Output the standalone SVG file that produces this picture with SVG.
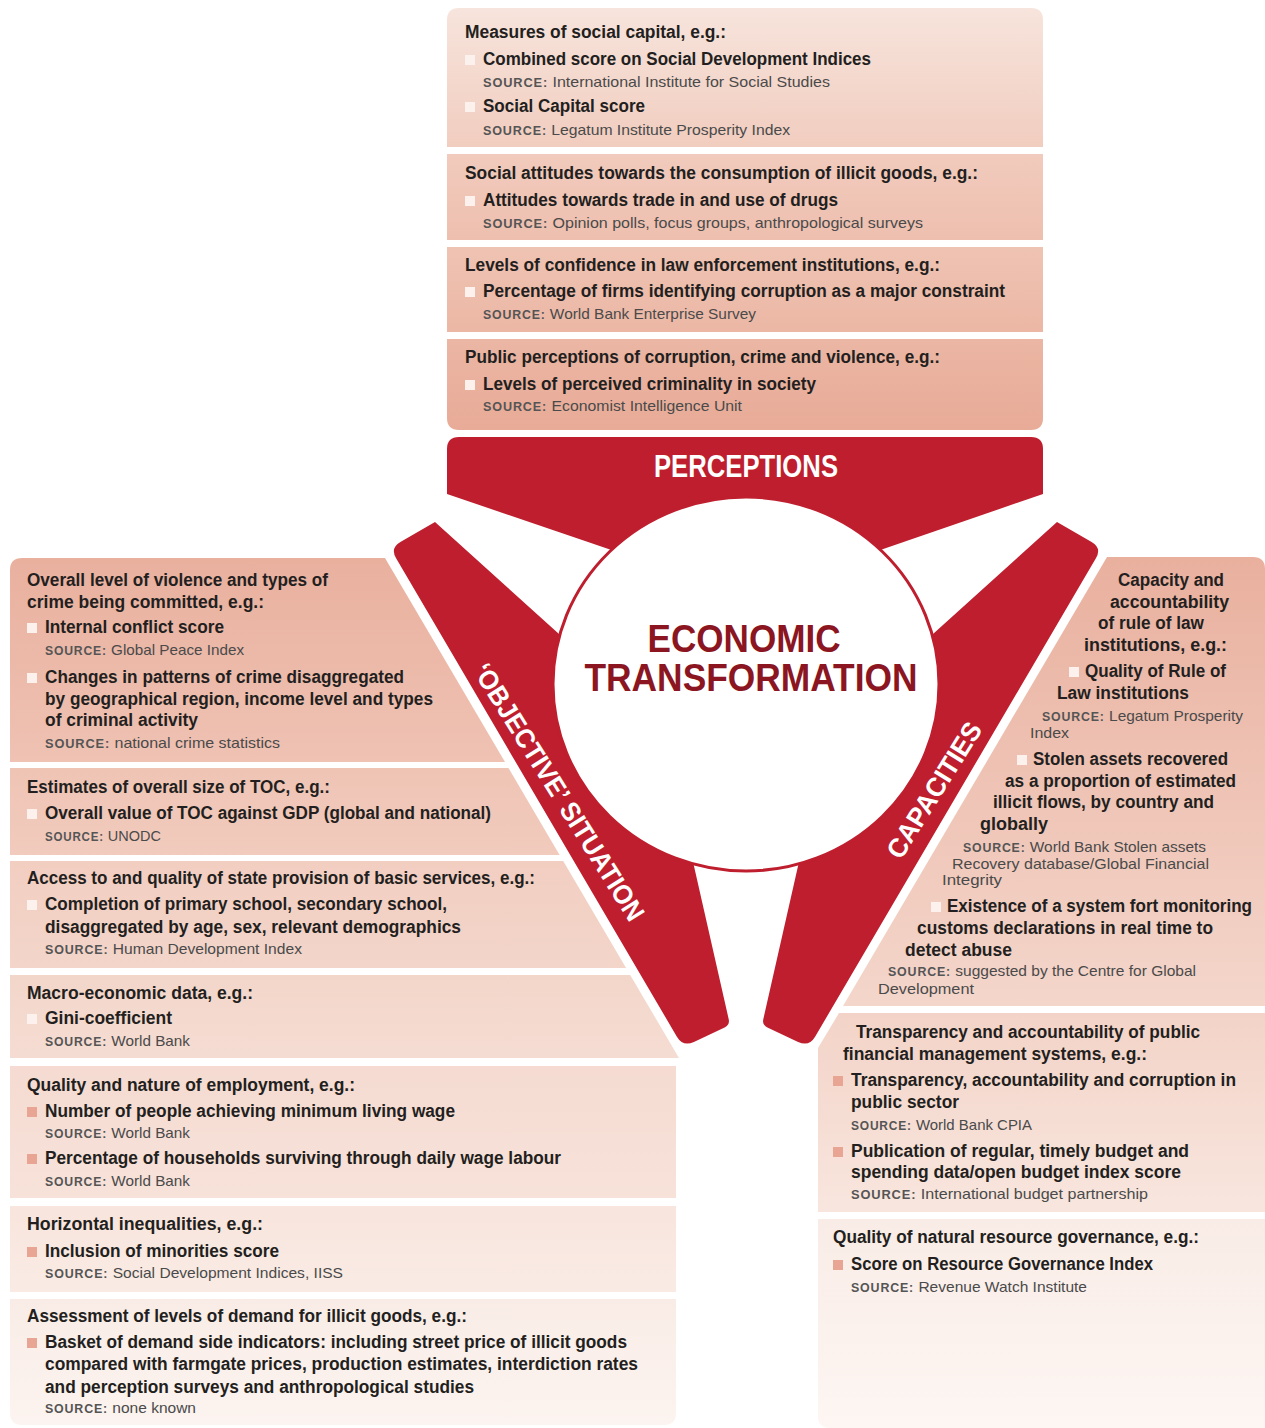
<svg xmlns="http://www.w3.org/2000/svg" xmlns:xlink="http://www.w3.org/1999/xlink" width="1265" height="1428" viewBox="0 0 1265 1428">
<defs>
<linearGradient id="gB1" x1="0" y1="0" x2="0" y2="1"><stop offset="0" stop-color="#f7e4dc"/><stop offset="1" stop-color="#f1cdbf"/></linearGradient>
<linearGradient id="gB2" x1="0" y1="0" x2="0" y2="1"><stop offset="0" stop-color="#f1cbbd"/><stop offset="1" stop-color="#eebfaf"/></linearGradient>
<linearGradient id="gB3" x1="0" y1="0" x2="0" y2="1"><stop offset="0" stop-color="#efc3b3"/><stop offset="1" stop-color="#ecb7a5"/></linearGradient>
<linearGradient id="gB4" x1="0" y1="0" x2="0" y2="1"><stop offset="0" stop-color="#ebb6a4"/><stop offset="1" stop-color="#e8ab97"/></linearGradient>
<linearGradient id="gL1" x1="0" y1="0" x2="0" y2="1"><stop offset="0" stop-color="#e9b09e"/><stop offset="1" stop-color="#efc2b3"/></linearGradient>
<linearGradient id="gL2" x1="0" y1="0" x2="0" y2="1"><stop offset="0" stop-color="#efc4b5"/><stop offset="1" stop-color="#f1cbbd"/></linearGradient>
<linearGradient id="gL3" x1="0" y1="0" x2="0" y2="1"><stop offset="0" stop-color="#f2cec1"/><stop offset="1" stop-color="#f3d5ca"/></linearGradient>
<linearGradient id="gL4" x1="0" y1="0" x2="0" y2="1"><stop offset="0" stop-color="#f3d6ca"/><stop offset="1" stop-color="#f5dcd2"/></linearGradient>
<linearGradient id="gL5" x1="0" y1="0" x2="0" y2="1"><stop offset="0" stop-color="#f5dbd1"/><stop offset="1" stop-color="#f7e2da"/></linearGradient>
<linearGradient id="gL6" x1="0" y1="0" x2="0" y2="1"><stop offset="0" stop-color="#f8e5dd"/><stop offset="1" stop-color="#f9ebe4"/></linearGradient>
<linearGradient id="gL7" x1="0" y1="0" x2="0" y2="1"><stop offset="0" stop-color="#f9ece6"/><stop offset="1" stop-color="#fcf4f0"/></linearGradient>
<linearGradient id="gR1" x1="0" y1="0" x2="0" y2="1"><stop offset="0" stop-color="#e9b09e"/><stop offset="1" stop-color="#f4d6cb"/></linearGradient>
<linearGradient id="gR2" x1="0" y1="0" x2="0" y2="1"><stop offset="0" stop-color="#f3d3c7"/><stop offset="1" stop-color="#f8e6de"/></linearGradient>
<linearGradient id="gR3" x1="0" y1="0" x2="0" y2="1"><stop offset="0" stop-color="#f9ece6"/><stop offset="1" stop-color="#fdf6f3"/></linearGradient>
<path id="arm" d="M435,522 L600,671 L679,800 L728.7,1019.2 Q730,1025 724.6,1027.5 L693.9,1041.9 Q683,1047 676.9,1036.7 L396.1,558.3 Q390,548 400.4,542 Z"/>
</defs>
<style>
text{font-family:"Liberation Sans",Arial,sans-serif}
.h{font-weight:700;font-size:17.5px;fill:#231f20}
.b{font-weight:700;font-size:17.5px;fill:#231f20}
.s{font-size:15px;fill:#4a4a4a}
.sc{font-size:12px;font-weight:700;letter-spacing:0.8px;fill:#555}
.wb{fill:#fcf1ec}
.pb{fill:#e8a594}
.red{fill:#be1e2d}
.lbl{font-weight:700;fill:#ffffff}
.core{font-weight:700;fill:#8b1622;font-size:38px}
</style>
<rect x="0" y="0" width="1265" height="1428" fill="#ffffff"/>

<g id="perceptions-social-capital">
<path d="M459,8 H1031 Q1043,8 1043,20 V147 H447 V20 Q447,8 459,8 Z" fill="url(#gB1)"/>
<text class="h" x="465" y="38" textLength="261" lengthAdjust="spacingAndGlyphs">Measures of social capital, e.g.:</text>
<rect class="wb" x="465" y="55" width="10" height="10"/>
<text class="b" x="483" y="65" textLength="388" lengthAdjust="spacingAndGlyphs">Combined score on Social Development Indices</text>
<text class="s" x="483" y="87" textLength="347" lengthAdjust="spacingAndGlyphs"><tspan class="sc">SOURCE:</tspan> International Institute for Social Studies</text>
<rect class="wb" x="465" y="102" width="10" height="10"/>
<text class="b" x="483" y="112" textLength="162" lengthAdjust="spacingAndGlyphs">Social Capital score</text>
<text class="s" x="483" y="135" textLength="307" lengthAdjust="spacingAndGlyphs"><tspan class="sc">SOURCE:</tspan> Legatum Institute Prosperity Index</text>
</g>

<g id="perceptions-social-attitudes">
<rect x="447" y="154" width="596" height="86" fill="url(#gB2)"/>
<text class="h" x="465" y="179" textLength="513" lengthAdjust="spacingAndGlyphs">Social attitudes towards the consumption of illicit goods, e.g.:</text>
<rect class="wb" x="465" y="196" width="10" height="10"/>
<text class="b" x="483" y="206" textLength="355" lengthAdjust="spacingAndGlyphs">Attitudes towards trade in and use of drugs</text>
<text class="s" x="483" y="228" textLength="440" lengthAdjust="spacingAndGlyphs"><tspan class="sc">SOURCE:</tspan> Opinion polls, focus groups, anthropological surveys</text>
</g>

<g id="perceptions-confidence">
<rect x="447" y="247" width="596" height="85" fill="url(#gB3)"/>
<text class="h" x="465" y="271" textLength="475" lengthAdjust="spacingAndGlyphs">Levels of confidence in law enforcement institutions, e.g.:</text>
<rect class="wb" x="465" y="287" width="10" height="10"/>
<text class="b" x="483" y="297" textLength="522" lengthAdjust="spacingAndGlyphs">Percentage of firms identifying corruption as a major constraint</text>
<text class="s" x="483" y="319" textLength="273" lengthAdjust="spacingAndGlyphs"><tspan class="sc">SOURCE:</tspan> World Bank Enterprise Survey</text>
</g>

<g id="perceptions-public">
<path d="M447,339 H1043 V418 Q1043,430 1031,430 H459 Q447,430 447,418 Z" fill="url(#gB4)"/>
<text class="h" x="465" y="363" textLength="475" lengthAdjust="spacingAndGlyphs">Public perceptions of corruption, crime and violence, e.g.:</text>
<rect class="wb" x="465" y="380" width="10" height="10"/>
<text class="b" x="483" y="390" textLength="333" lengthAdjust="spacingAndGlyphs">Levels of perceived criminality in society</text>
<text class="s" x="483" y="411" textLength="259" lengthAdjust="spacingAndGlyphs"><tspan class="sc">SOURCE:</tspan> Economist Intelligence Unit</text>
</g>

<g id="hub">
<path class="red" d="M447,449 Q447,437 459,437 H1031 Q1043,437 1043,449 V494 L860,557 H632 L447,494 Z"/>
<use xlink:href="#arm" href="#arm" class="red"/>
<use xlink:href="#arm" href="#arm" class="red" transform="matrix(-1 0 0 1 1492 0)"/>
<ellipse cx="746" cy="684" rx="193" ry="187" fill="#ffffff" stroke="#be1e2d" stroke-width="3"/>
<text class="lbl" x="746" y="477" font-size="32" text-anchor="middle" textLength="184" lengthAdjust="spacingAndGlyphs">PERCEPTIONS</text>
<text class="lbl" font-size="27" text-anchor="middle" textLength="298" lengthAdjust="spacingAndGlyphs" transform="translate(551,797) rotate(58)">‘OBJECTIVE’ SITUATION</text>
<text class="lbl" font-size="27" text-anchor="middle" textLength="155" lengthAdjust="spacingAndGlyphs" transform="translate(942,795) rotate(-58)">CAPACITIES</text>
<text class="core" x="744" y="652" text-anchor="middle" textLength="193" lengthAdjust="spacingAndGlyphs">ECONOMIC</text>
<text class="core" x="751" y="691" text-anchor="middle" textLength="333" lengthAdjust="spacingAndGlyphs">TRANSFORMATION</text>
</g>

<g id="objective-violence">
<path d="M22,558 H385 L505,762 H10 V570 Q10,558 22,558 Z" fill="url(#gL1)"/>
<text class="h" x="27" y="586" textLength="301" lengthAdjust="spacingAndGlyphs">Overall level of violence and types of</text>
<text class="h" x="27" y="608" textLength="237" lengthAdjust="spacingAndGlyphs">crime being committed, e.g.:</text>
<rect class="wb" x="27" y="623" width="10" height="10"/>
<text class="b" x="45" y="633" textLength="179" lengthAdjust="spacingAndGlyphs">Internal conflict score</text>
<text class="s" x="45" y="655" textLength="199" lengthAdjust="spacingAndGlyphs"><tspan class="sc">SOURCE:</tspan> Global Peace Index</text>
<rect class="wb" x="27" y="673" width="10" height="10"/>
<text class="b" x="45" y="683" textLength="359" lengthAdjust="spacingAndGlyphs">Changes in patterns of crime disaggregated</text>
<text class="b" x="45" y="705" textLength="388" lengthAdjust="spacingAndGlyphs">by geographical region, income level and types</text>
<text class="b" x="45" y="726" textLength="153" lengthAdjust="spacingAndGlyphs">of criminal activity</text>
<text class="s" x="45" y="748" textLength="235" lengthAdjust="spacingAndGlyphs"><tspan class="sc">SOURCE:</tspan> national crime statistics</text>
</g>

<g id="objective-toc-size">
<path d="M10,768 H508.5 L559.6,855 H10 Z" fill="url(#gL2)"/>
<text class="h" x="27" y="793" textLength="303" lengthAdjust="spacingAndGlyphs">Estimates of overall size of TOC, e.g.:</text>
<rect class="wb" x="27" y="809" width="10" height="10"/>
<text class="b" x="45" y="819" textLength="446" lengthAdjust="spacingAndGlyphs">Overall value of TOC against GDP (global and national)</text>
<text class="s" x="45" y="841" textLength="116" lengthAdjust="spacingAndGlyphs"><tspan class="sc">SOURCE:</tspan> UNODC</text>
</g>

<g id="objective-basic-services">
<path d="M10,861 H563.2 L626.1,968 H10 Z" fill="url(#gL3)"/>
<text class="h" x="27" y="884" textLength="508" lengthAdjust="spacingAndGlyphs">Access to and quality of state provision of basic services, e.g.:</text>
<rect class="wb" x="27" y="900" width="10" height="10"/>
<text class="b" x="45" y="910" textLength="402" lengthAdjust="spacingAndGlyphs">Completion of primary school, secondary school,</text>
<text class="b" x="45" y="933" textLength="416" lengthAdjust="spacingAndGlyphs">disaggregated by age, sex, relevant demographics</text>
<text class="s" x="45" y="954" textLength="257" lengthAdjust="spacingAndGlyphs"><tspan class="sc">SOURCE:</tspan> Human Development Index</text>
</g>

<g id="objective-macro">
<path d="M10,975 H630.2 L679,1058 H10 Z" fill="url(#gL4)"/>
<text class="h" x="27" y="999" textLength="226" lengthAdjust="spacingAndGlyphs">Macro-economic data, e.g.:</text>
<rect class="wb" x="27" y="1014" width="10" height="10"/>
<text class="b" x="45" y="1024" textLength="127" lengthAdjust="spacingAndGlyphs">Gini-coefficient</text>
<text class="s" x="45" y="1046" textLength="145" lengthAdjust="spacingAndGlyphs"><tspan class="sc">SOURCE:</tspan> World Bank</text>
</g>

<g id="objective-employment">
<rect x="10" y="1066" width="666" height="132" fill="url(#gL5)"/>
<text class="h" x="27" y="1091" textLength="328" lengthAdjust="spacingAndGlyphs">Quality and nature of employment, e.g.:</text>
<rect class="pb" x="27" y="1107" width="10" height="10"/>
<text class="b" x="45" y="1117" textLength="410" lengthAdjust="spacingAndGlyphs">Number of people achieving minimum living wage</text>
<text class="s" x="45" y="1138" textLength="145" lengthAdjust="spacingAndGlyphs"><tspan class="sc">SOURCE:</tspan> World Bank</text>
<rect class="pb" x="27" y="1154" width="10" height="10"/>
<text class="b" x="45" y="1164" textLength="516" lengthAdjust="spacingAndGlyphs">Percentage of households surviving through daily wage labour</text>
<text class="s" x="45" y="1186" textLength="145" lengthAdjust="spacingAndGlyphs"><tspan class="sc">SOURCE:</tspan> World Bank</text>
</g>

<g id="objective-inequalities">
<rect x="10" y="1206" width="666" height="86" fill="url(#gL6)"/>
<text class="h" x="27" y="1230" textLength="236" lengthAdjust="spacingAndGlyphs">Horizontal inequalities, e.g.:</text>
<rect class="pb" x="27" y="1247" width="10" height="10"/>
<text class="b" x="45" y="1257" textLength="234" lengthAdjust="spacingAndGlyphs">Inclusion of minorities score</text>
<text class="s" x="45" y="1278" textLength="298" lengthAdjust="spacingAndGlyphs"><tspan class="sc">SOURCE:</tspan> Social Development Indices, IISS</text>
</g>

<g id="objective-demand">
<path d="M10,1299 H676 V1413 Q676,1425 664,1425 H22 Q10,1425 10,1413 Z" fill="url(#gL7)"/>
<text class="h" x="27" y="1322" textLength="440" lengthAdjust="spacingAndGlyphs">Assessment of levels of demand for illicit goods, e.g.:</text>
<rect class="pb" x="27" y="1338" width="10" height="10"/>
<text class="b" x="45" y="1348" textLength="582" lengthAdjust="spacingAndGlyphs">Basket of demand side indicators: including street price of illicit goods</text>
<text class="b" x="45" y="1370" textLength="593" lengthAdjust="spacingAndGlyphs">compared with farmgate prices, production estimates, interdiction rates</text>
<text class="b" x="45" y="1393" textLength="429" lengthAdjust="spacingAndGlyphs">and perception surveys and anthropological studies</text>
<text class="s" x="45" y="1413" textLength="151" lengthAdjust="spacingAndGlyphs"><tspan class="sc">SOURCE:</tspan> none known</text>
</g>

<g id="capacities-rule-of-law">
<path d="M1107,557 H1253 Q1265,557 1265,569 V1006 H843 Z" fill="url(#gR1)"/>
<text class="h" x="1118" y="586" textLength="106" lengthAdjust="spacingAndGlyphs">Capacity and</text>
<text class="h" x="1110" y="608" textLength="119" lengthAdjust="spacingAndGlyphs">accountability</text>
<text class="h" x="1098" y="629" textLength="106" lengthAdjust="spacingAndGlyphs">of rule of law</text>
<text class="h" x="1084" y="651" textLength="143" lengthAdjust="spacingAndGlyphs">institutions, e.g.:</text>
<rect class="wb" x="1069" y="667" width="10" height="10"/>
<text class="b" x="1085" y="677" textLength="141" lengthAdjust="spacingAndGlyphs">Quality of Rule of</text>
<text class="b" x="1057" y="699" textLength="132" lengthAdjust="spacingAndGlyphs">Law institutions</text>
<text class="s" x="1042" y="721" textLength="201" lengthAdjust="spacingAndGlyphs"><tspan class="sc">SOURCE:</tspan> Legatum Prosperity</text>
<text class="s" x="1030" y="738" textLength="39" lengthAdjust="spacingAndGlyphs">Index</text>
<rect class="wb" x="1017" y="755" width="10" height="10"/>
<text class="b" x="1033" y="765" textLength="195" lengthAdjust="spacingAndGlyphs">Stolen assets recovered</text>
<text class="b" x="1005" y="787" textLength="231" lengthAdjust="spacingAndGlyphs">as a proportion of estimated</text>
<text class="b" x="993" y="808" textLength="221" lengthAdjust="spacingAndGlyphs">illicit flows, by country and</text>
<text class="b" x="980" y="830" textLength="68" lengthAdjust="spacingAndGlyphs">globally</text>
<text class="s" x="963" y="852" textLength="243" lengthAdjust="spacingAndGlyphs"><tspan class="sc">SOURCE:</tspan> World Bank Stolen assets</text>
<text class="s" x="952" y="869" textLength="257" lengthAdjust="spacingAndGlyphs">Recovery database/Global Financial</text>
<text class="s" x="942" y="885" textLength="60" lengthAdjust="spacingAndGlyphs">Integrity</text>
<rect class="wb" x="931" y="902" width="10" height="10"/>
<text class="b" x="947" y="912" textLength="305" lengthAdjust="spacingAndGlyphs">Existence of a system fort monitoring</text>
<text class="b" x="917" y="934" textLength="296" lengthAdjust="spacingAndGlyphs">customs declarations in real time to</text>
<text class="b" x="905" y="956" textLength="107" lengthAdjust="spacingAndGlyphs">detect abuse</text>
<text class="s" x="888" y="976" textLength="308" lengthAdjust="spacingAndGlyphs"><tspan class="sc">SOURCE:</tspan> suggested by the Centre for Global</text>
<text class="s" x="878" y="994" textLength="96" lengthAdjust="spacingAndGlyphs">Development</text>
</g>

<g id="capacities-pfm">
<path d="M839,1013 H1265 V1212 H818 V1048 Z" fill="url(#gR2)"/>
<text class="h" x="856" y="1038" textLength="344" lengthAdjust="spacingAndGlyphs">Transparency and accountability of public</text>
<text class="h" x="843" y="1060" textLength="304" lengthAdjust="spacingAndGlyphs">financial management systems, e.g.:</text>
<rect class="pb" x="833" y="1076" width="10" height="10"/>
<text class="b" x="851" y="1086" textLength="385" lengthAdjust="spacingAndGlyphs">Transparency, accountability and corruption in</text>
<text class="b" x="851" y="1108" textLength="108" lengthAdjust="spacingAndGlyphs">public sector</text>
<text class="s" x="851" y="1130" textLength="181" lengthAdjust="spacingAndGlyphs"><tspan class="sc">SOURCE:</tspan> World Bank CPIA</text>
<rect class="pb" x="833" y="1147" width="10" height="10"/>
<text class="b" x="851" y="1157" textLength="338" lengthAdjust="spacingAndGlyphs">Publication of regular, timely budget and</text>
<text class="b" x="851" y="1178" textLength="330" lengthAdjust="spacingAndGlyphs">spending data/open budget index score</text>
<text class="s" x="851" y="1199" textLength="297" lengthAdjust="spacingAndGlyphs"><tspan class="sc">SOURCE:</tspan> International budget partnership</text>
</g>

<g id="capacities-natural-resources">
<path d="M818,1219 H1265 V1428 H830 Q818,1428 818,1416 Z" fill="url(#gR3)"/>
<text class="h" x="833" y="1243" textLength="366" lengthAdjust="spacingAndGlyphs">Quality of natural resource governance, e.g.:</text>
<rect class="pb" x="833" y="1260" width="10" height="10"/>
<text class="b" x="851" y="1270" textLength="302" lengthAdjust="spacingAndGlyphs">Score on Resource Governance Index</text>
<text class="s" x="851" y="1292" textLength="236" lengthAdjust="spacingAndGlyphs"><tspan class="sc">SOURCE:</tspan> Revenue Watch Institute</text>
</g>

<g id="connectors"/>
</svg>
